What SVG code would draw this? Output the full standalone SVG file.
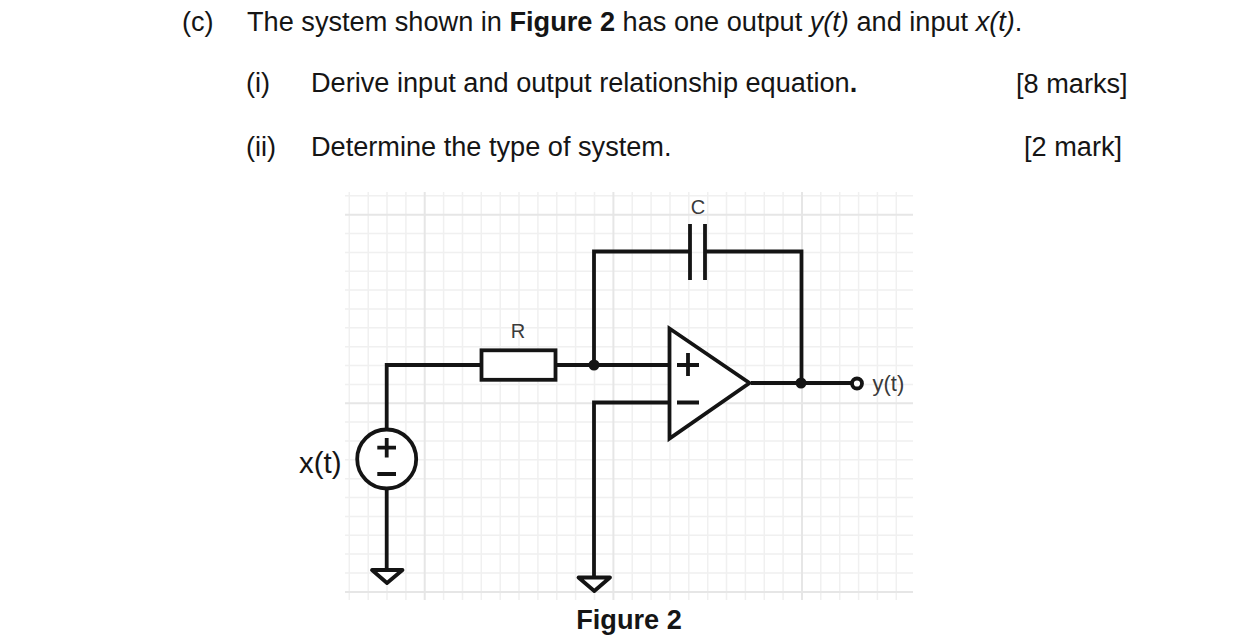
<svg xmlns="http://www.w3.org/2000/svg" width="1242" height="640" viewBox="0 0 1242 640">
<style>
text{font-family:"Liberation Sans",Arial,sans-serif;fill:#151515}
.q{font-size:27.15px}
.l{font-size:20px;fill:#3a3a3a}
.g{stroke:#f0f0f0;stroke-width:1.5;fill:none}
.m{stroke:#e6e6e6;stroke-width:2;fill:none}
.w{stroke:#141414;stroke-width:3.8;fill:none}
.s{stroke:#141414;stroke-width:3.8;fill:#fff}
.d{fill:#141414}
.t{stroke:#141414;stroke-width:3.8;fill:#fff;stroke-linejoin:round}
</style>
<rect width="1242" height="640" fill="#fff"/>
<g id="question">
<text class="q" x="182" y="31">(c)</text>
<text class="q" x="247" y="31">The system shown in <tspan font-weight="bold">Figure 2</tspan> has one output <tspan font-style="italic">y(t)</tspan> and input <tspan font-style="italic">x(t)</tspan>.</text>
<text class="q" x="246" y="92">(i)</text>
<text class="q" x="311" y="92">Derive input and output relationship equation<tspan font-weight="bold">.</tspan></text>
<text class="q" x="1016" y="93">[8 marks]</text>
<text class="q" x="246" y="156">(ii)</text>
<text class="q" x="311" y="156">Determine the type of system.</text>
<text class="q" x="1024" y="156">[2 mark]</text>
</g>
<g id="grid">
<path class="g" d="M349.3 192V600M368.2 192V600M387 192V600M405.9 192V600M443.6 192V600M462.5 192V600M481.3 192V600M500.2 192V600M519 192V600M537.9 192V600M556.8 192V600M575.6 192V600M594.5 192V600M632.2 192V600M651.1 192V600M670 192V600M688.8 192V600M707.7 192V600M726.5 192V600M745.4 192V600M764.3 192V600M783.1 192V600M820.8 192V600M839.7 192V600M858.6 192V600M877.4 192V600M896.3 192V600"/>
<path class="g" d="M345 195.8H913M345 233.5H913M345 252.4H913M345 271.2H913M345 290.1H913M345 308.9H913M345 327.8H913M345 346.7H913M345 365.500H913M345 384.4H913M345 422H913M345 441H913M345 459.8H913M345 478.7H913M345 497.6H913M345 516.4H913M345 535.3H913M345 554.1H913M345 573H913"/>
<path class="m" d="M424.7 192V600M613.4 192V600M802 192V600M345 214.7H913M345 403.2H913M345 592H913"/>
</g>
<g id="connectors">
<path class="w" d="M386.700 430V365H481"/>
<path class="w" d="M556 365H670"/>
<path class="w" d="M594 365V251.500H689"/>
<path class="w" d="M705 251.500H801.500V383"/>
<path class="w" d="M751 383H852"/>
<path class="w" d="M670 402.500H594V577"/>
<path class="w" d="M386.700 488V568"/>
</g>
<g id="R"><rect class="s" x="481.500" y="350.300" width="74" height="29.500"/><text class="l" x="518" y="338" text-anchor="middle">R</text></g>
<g id="C">
<path class="w" d="M690 224V280M705 224V280"/>
<text class="l" x="698" y="214" text-anchor="middle">C</text>
</g>
<g id="opamp">
<path class="s" d="M669.500 328.500V438.500L749.500 383Z"/>
<path class="w" d="M677 365H699M688 353V376M677 402.500H699"/>
</g>
<g id="junctions"><circle class="d" cx="594" cy="365" r="5.500"/><circle class="d" cx="801" cy="383" r="5.500"/></g>
<g id="output"><circle class="s" cx="857" cy="383.500" r="5"/><text x="872.500" y="391" font-size="22" style="fill:#3a3a3a">y(t)</text></g>
<g id="source">
<circle class="s" cx="386.700" cy="459" r="29.500"/>
<path class="w" d="M377.300 447.700H396M386.700 438V457.500M377.300 474H396"/>
<text x="299" y="473" font-size="29.500">x(t)</text>
</g>
<g id="ground1"><path class="t" d="M372 570H402.500L387 583Z"/></g>
<g id="ground2"><path class="t" d="M578.500 577.500H610L594.300 591Z"/></g>
<text x="629" y="629" font-size="27.150" font-weight="bold" text-anchor="middle">Figure 2</text>
</svg>
